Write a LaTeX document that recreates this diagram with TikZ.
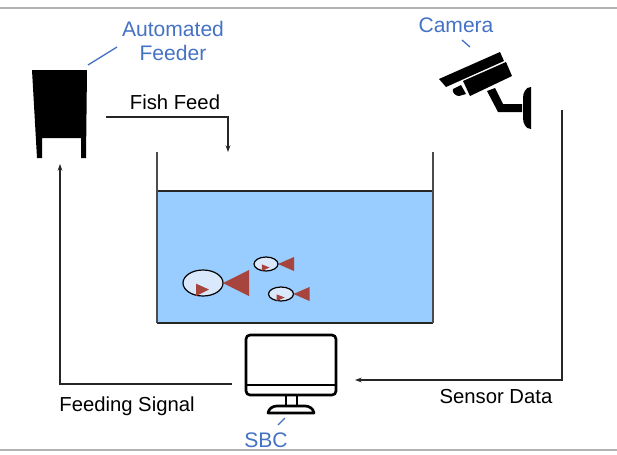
\documentclass[tikz,border=0pt]{standalone}
\usepackage{fontspec}
\setmainfont{Liberation Sans}
\usetikzlibrary{arrows.meta}

\definecolor{labelblue}{RGB}{68,114,196}
\definecolor{water}{RGB}{153,204,255}
\definecolor{fishbody}{RGB}{218,232,252}
\definecolor{fishtail}{RGB}{168,68,62}

\begin{document}
\begin{tikzpicture}[
	x=0.75pt, y=-0.75pt,
	flow/.style={ draw=black!85, line width=0.8pt, -{Stealth[length=5pt,width=3.6pt]} },
	lbl/.style={ font=\fontsize{15.2}{17}\selectfont, inner sep=0pt },
	bluelbl/.style={ lbl, font=\fontsize{15.8}{18}\selectfont, text=labelblue, align=center },
	pointer/.style={ draw=labelblue, line width=1pt },
	wall/.style={ draw=black!70, line width=1.3pt },
	eye/.style={ fill=fishtail, draw=none }
]
\useasboundingbox (0,0) rectangle (617,454);

% frame lines
\draw[black!30, line width=1pt] (0,8) -- (617,8);
\draw[black!30, line width=1pt] (0,450) -- (617,450);

% automated feeder
\fill[black] (32,70) -- (87,70) -- (86,158) -- (81,158) -- (81,138) -- (42,138) -- (42,158) -- (37,158) -- cycle;
\node at (59,114) (feeder) [minimum width=55pt, minimum height=88pt] {};
\node at (173,41) (feederlbl) [bluelbl] {Automated\\Feeder};
\draw[pointer] (88,65) -- (117,47);

% tank with water
\fill[water] (157,191) rectangle (433,323);
\draw[black!85, line width=1.1pt] (157,191) -- (433,191);
\draw[black!85, line width=1.3pt] (157,323) -- (433,323);
\draw[wall] (157,152) coordinate (tankL) -- (157,323);
\draw[wall] (433,152) coordinate (tankR) -- (433,323);

% fish: center, x radius, y radius, tail length
\foreach \cx/\cy/\rx/\ry/\tl in {203/283/20/13/26, 266/264/12/7/16, 281/294/12.5/7/16} {
	\fill[fishtail] (\cx+\rx,\cy) -- (\cx+\rx+\tl,\cy-\ry) -- (\cx+\rx+\tl,\cy+\ry) -- cycle;
	\draw[fill=fishbody, line width=0.9pt] (\cx,\cy) ellipse [x radius=\rx, y radius=\ry];
	\fill[eye] (\cx-0.35*\rx,\cy+0.05*\ry) -- (\cx+0.3*\rx,\cy+0.5*\ry) -- (\cx-0.35*\rx,\cy+\ry) -- cycle;
}

% camera
\fill[black] (439,79) -- (500,52) -- (504,61) -- (446,87) -- cycle;
\fill[black] (463,81) -- (506,62) -- (512,76) -- (470,96) -- cycle;
\fill[black] (453,89) -- (461,85) -- (466,94) -- (459,96) to[out=180,in=250] cycle;
\fill[black] (487,91) -- (495,88) -- (503,104) -- (522,104) -- (522,112) -- (498,112) -- cycle;
\fill[black] (531,87) -- (531,129) to[out=180,in=270] (523,118) -- (523,98) to[out=90,in=180] cycle;
\node at (485,90) (camera) [minimum width=90pt, minimum height=78pt] {};
\node at (456,25) (cameralbl) [bluelbl] {Camera};
\draw[pointer] (462,40) -- (470,47);

% SBC monitor
\draw[line width=2pt, rounded corners=3pt] (246,335) rectangle (336,395);
\draw[line width=2pt] (246,385) -- (336,385);
\draw[line width=1.6pt] (286,396) -- (286,406) (297,396) -- (297,406);
\draw[line width=2pt, line join=round] (268,413) -- (314,413) to[out=100,in=0] (305,406) -- (277,406) to[out=180,in=80] cycle;
\node at (291,370) (sbc) [minimum width=68pt, minimum height=60pt] {};
\node at (266,440) (sbclbl) [bluelbl] {SBC};
\draw[pointer] (278,425) -- (285,418);

% connectors
\coordinate (feedout) at (106,117);
\coordinate (feedin) at (228,152);
\coordinate (sigout) at (232,384);
\coordinate (sigin) at (60,164);
\coordinate (camout) at (562,110);
\coordinate (sensin) at (355,380);

\draw[flow] (feedout) -| (feedin);
\draw[flow] (sigout) -| (sigin);
\draw[flow] (camout) |- (sensin);

\node at (175,102) (feedlbl) [lbl] {Fish Feed};
\node at (127,406) (siglbl) [lbl] {Feeding Signal};
\node at (496,397) (senslbl) [lbl] {Sensor Data};

\end{tikzpicture}
\end{document}
